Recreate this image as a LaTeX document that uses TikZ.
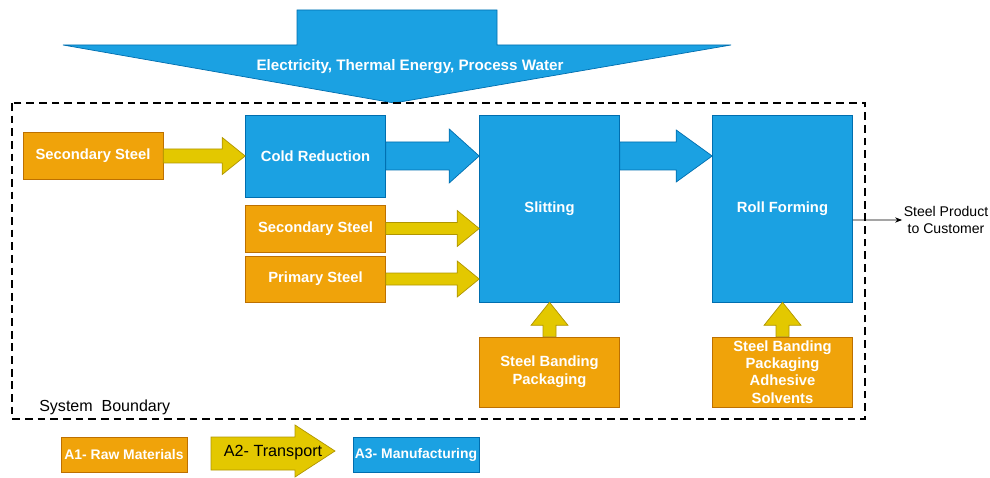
\documentclass[tikz,border=0pt]{standalone}
\usepackage{fontspec}
\setmainfont{Liberation Sans}
\usetikzlibrary{arrows.meta,positioning,calc}
\definecolor{rawfill}{HTML}{F0A30A}
\definecolor{rawline}{HTML}{BD7000}
\definecolor{trnfill}{HTML}{E3C800}
\definecolor{trnline}{HTML}{B09500}
\definecolor{mfgfill}{HTML}{1BA1E2}
\definecolor{mfgline}{HTML}{006EAF}
% block arrows: style, from, to, half shaft, half head, head length
\newcommand{\fatright}[6]{%
  \filldraw[#1] ($(#2)+(0,-#4)$) -- ($(#3)+(-#6,-#4)$) -- ($(#3)+(-#6,-#5)$)
    -- (#3) -- ($(#3)+(-#6,#5)$) -- ($(#3)+(-#6,#4)$) -- ($(#2)+(0,#4)$) -- cycle;}
\newcommand{\fatup}[6]{%
  \filldraw[#1] ($(#2)+(-#4,0)$) -- ($(#3)+(-#4,#6)$) -- ($(#3)+(-#5,#6)$)
    -- (#3) -- ($(#3)+(#5,#6)$) -- ($(#3)+(#4,#6)$) -- ($(#2)+(#4,0)$) -- cycle;}

\begin{document}
\begin{tikzpicture}[
  x=0.025cm, y=-0.025cm,
  raw/.style={draw=rawline, fill=rawfill, text=white, minimum width=3.5cm,
              minimum height=1.175cm, align=center, inner sep=1pt,
              font=\fontsize{10.5}{12.6}\selectfont\bfseries},
  mfg/.style={raw, draw=mfgline, fill=mfgfill},
  legbox/.style={raw, minimum width=3.15cm, minimum height=0.875cm,
                 font=\fontsize{9.9}{11}\selectfont\bfseries},
  trn/.style={draw=trnline, fill=trnfill, line width=0.5pt},
  flow/.style={draw=mfgline, fill=mfgfill, line width=0.5pt},
  plain/.style={font=\fontsize{10}{11.5}\selectfont, align=center, inner sep=1pt}
]
\useasboundingbox (0,0) rectangle (990,478);

% energy input
\filldraw[flow] (297,10) -- (497,10) -- (497,45) -- (731,45) -- (394,103)
  -- (63,45) -- (297,45) -- cycle;
\node[text=white, font=\fontsize{10.8}{12}\selectfont\bfseries] (energy) at (410,67)
  {Electricity, Thermal Energy, Process Water};

% system boundary
\draw[dashed, line width=1.5pt, dash pattern=on 5.5pt off 3.5pt] (12,103) rectangle (865,419);
\node[anchor=west, font=\fontsize{11.4}{13}\selectfont, inner sep=0pt] (sysb) at (39,407)
  {System\ \ Boundary};

\node[raw] (sec1) at (93,156) {Secondary Steel};
\node[mfg, minimum height=2.05cm] (cold) at (315.5,156) {Cold Reduction};
\node[raw] (sec2) at (315.5,228.5) {Secondary Steel};
\node[raw, minimum height=1.15cm] (prim) at (315.5,279) {Primary Steel};
\node[mfg, minimum height=4.675cm] (slit) at (549.5,208.5) {Slitting};
\node[mfg, minimum height=4.675cm] (roll) at (782.5,208.5) {Roll Forming};
\node[raw, minimum height=1.75cm] (band1) at (549.5,372) {Steel Banding\\Packaging};
\node[raw, minimum height=1.75cm, font=\fontsize{10.5}{12.4}\selectfont\bfseries,
  inner sep=0pt] (band2) at (782.5,372) {Steel Banding\\Packaging\\Adhesive\\Solvents};

\coordinate (t1) at (slit.west |- cold.east);
\coordinate (t2) at (slit.west |- sec2.east);
\coordinate (t3) at (slit.west |- prim.east);
\coordinate (s1) at (slit.east |- cold.east);
\coordinate (t4) at (roll.west |- cold.east);

\fatright{trn}{sec1.east}{cold.west}{7}{18.5}{23}
\fatright{flow}{cold.east}{t1}{14}{27}{30}
\fatright{flow}{s1}{t4}{14}{26}{36}
\fatright{trn}{sec2.east}{t2}{6}{18}{22}
\fatright{trn}{prim.east}{t3}{6}{18}{22}
\fatup{trn}{band1.north}{slit.south}{6.5}{18.5}{23}
\fatup{trn}{band2.north}{roll.south}{6.5}{18.5}{23}

% product out
\node[plain] (cust) at (946,220) {Steel Product\\to Customer};
\coordinate (out) at ($(roll.east)+(0,11.5)$);
\draw[-{Stealth[length=5pt]}, line width=0.6pt] (out) -- (cust.west);

% legend
\node[legbox] (leg1) at (124,454.5) {A1- Raw Materials};
\filldraw[trn] (211,437) -- (295,437) -- (295,425) -- (335,451) -- (295,477)
  -- (295,470) -- (211,470) -- cycle;
\node[font=\fontsize{11.5}{13}\selectfont] (leg2) at (273,453) {A2- Transport};
\node[legbox, draw=mfgline, fill=mfgfill] (leg3) at (416,454.5) {A3- Manufacturing};
\end{tikzpicture}
\end{document}
